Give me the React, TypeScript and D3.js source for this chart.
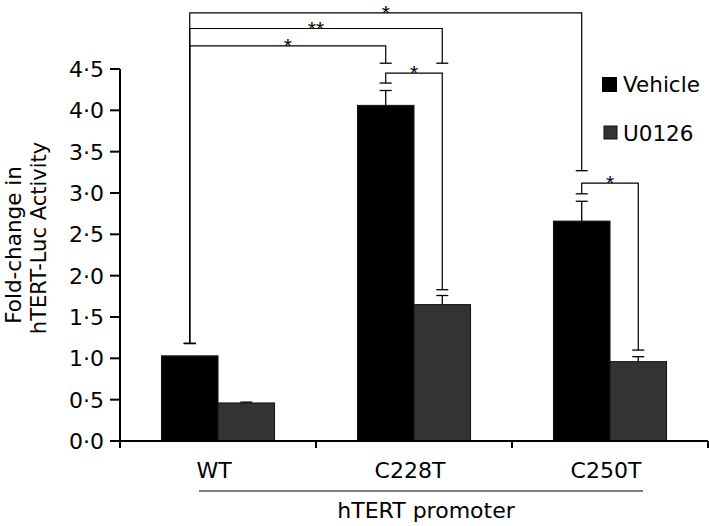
import React, { useEffect } from "react";
import * as d3 from "d3";

const categories = ["WT", "C228T", "C250T"];
const seriesNames = ["Vehicle", "U0126"];
const vehicleValues = [1.03, 4.06, 2.66];
const vehicleErrors = [0, 0.18, 0.24];
const u0126Values = [0.46, 1.65, 0.96];
const u0126Errors = [0.01, 0.11, 0.06];
const yTicks = [0, 0.5, 1, 1.5, 2, 2.5, 3, 3.5, 4, 4.5];

// significance brackets: [category, series] endpoints, bar level, leg ends, label
const bracketFrom = [[0, 0], [0, 0], [0, 0], [1, 0], [2, 0]];
const bracketTo = [[2, 0], [1, 1], [1, 0], [1, 1], [2, 1]];
const bracketLevel = [5.18, 4.99, 4.78, 4.45, 3.12];
const bracketLeftEnd = [1.18, 1.18, 1.18, 4.33, 2.99];
const bracketRightEnd = [3.27, 4.57, 4.57, 1.83, 1.1];
const bracketLabel = ["*", "**", "*", "*", "*"];

const FONT = "'DejaVu Sans', sans-serif";
const W = 709;
const H = 526;
const colors = ["#000000", "#333333"];

export default function App() {
  useEffect(() => {
    document.body.style.margin = "0";
  }, []);

  const x = d3
    .scaleBand<string>()
    .domain(categories)
    .range([120, 708])
    .paddingInner(0.423)
    .paddingOuter(0.2115);
  const xs = d3.scaleBand<string>().domain(seriesNames).range([0, x.bandwidth()]);
  const y = d3.scaleLinear().domain([0, 4.5]).range([441, 69]);

  const values = [vehicleValues, u0126Values];
  const errors = [vehicleErrors, u0126Errors];
  const step = x.step();
  const catCenter = (i: number) => (x(categories[i]) as number) + x.bandwidth() / 2;
  const barCenter = (c: number, s: number) =>
    (x(categories[c]) as number) + (xs(seriesNames[s]) as number) + xs.bandwidth() / 2;
  const capW = 12;

  return (
    <svg width={W} height={H} style={{ display: "block" }} fontFamily={FONT}>
      <rect x={0} y={0} width={W} height={H} fill="#fff" />
      {/* bars */}
      {seriesNames.map((s, si) =>
        categories.map((c, ci) => {
          const v = values[si][ci];
          return (
            <rect
              key={s + c}
              x={(x(c) as number) + (xs(s) as number)}
              y={y(v)}
              width={xs.bandwidth()}
              height={y(0) - y(v)}
              fill={colors[si]}
              stroke="#111"
              strokeWidth={1}
            />
          );
        })
      )}
      {/* error bars */}
      {seriesNames.map((s, si) =>
        categories.map((c, ci) => {
          const e = errors[si][ci];
          if (e <= 0) return null;
          const v = values[si][ci];
          const cx = barCenter(ci, si);
          return (
            <g key={"e" + s + c} stroke="#000" strokeWidth={1.3}>
              <line x1={cx} x2={cx} y1={y(v)} y2={y(v + e)} />
              <line x1={cx - capW / 2} x2={cx + capW / 2} y1={y(v + e)} y2={y(v + e)} />
            </g>
          );
        })
      )}
      {/* brackets */}
      {bracketLevel.map((lvl, i) => {
        const x1 = barCenter(bracketFrom[i][0], bracketFrom[i][1]);
        const x2 = barCenter(bracketTo[i][0], bracketTo[i][1]);
        const yl = y(lvl);
        const y1 = y(bracketLeftEnd[i]);
        const y2 = y(bracketRightEnd[i]);
        return (
          <g key={"b" + i}>
            <path
              d={`M${x1},${y1}V${yl}H${x2}V${y2}`}
              fill="none"
              stroke="#000"
              strokeWidth={1.2}
            />
            <line x1={x1 - capW / 2} x2={x1 + capW / 2} y1={y1} y2={y1} stroke="#000" strokeWidth={1.3} />
            <line x1={x2 - capW / 2} x2={x2 + capW / 2} y1={y2} y2={y2} stroke="#000" strokeWidth={1.3} />
            <text
              x={(x1 + x2) / 2}
              y={yl + 7.2}
              textAnchor="middle"
              fontSize={21}
              fontFamily="'Liberation Sans', Arial, sans-serif"
              fill="#000"
            >
              {bracketLabel[i]}
            </text>
          </g>
        );
      })}
      {/* y axis */}
      <line x1={120} x2={120} y1={y(4.5)} y2={y(0)} stroke="#000" strokeWidth={2} />
      {yTicks.map((t) => (
        <g key={"t" + t}>
          <line x1={110} x2={120} y1={y(t)} y2={y(t)} stroke="#000" strokeWidth={2} />
          <text x={104} y={y(t) + 8} textAnchor="end" fontSize={22} fill="#000">
            {t.toFixed(1).replace(".", "\u00B7")}
          </text>
        </g>
      ))}
      {/* x axis */}
      <line x1={119} x2={708} y1={y(0)} y2={y(0)} stroke="#000" strokeWidth={2} />
      {[0, 1, 2, 3].map((k) => (
        <line
          key={"xt" + k}
          x1={120 + k * step}
          x2={120 + k * step}
          y1={y(0)}
          y2={y(0) + 7}
          stroke="#000"
          strokeWidth={2}
        />
      ))}
      {categories.map((c, ci) => (
        <text key={"cl" + c} x={catCenter(ci) - 4} y={478} textAnchor="middle" fontSize={22} fill="#000">
          {c}
        </text>
      ))}
      <line x1={199} x2={643} y1={491} y2={491} stroke="#000" strokeWidth={1.2} />
      <text x={426} y={518} textAnchor="middle" fontSize={22} fill="#000">
        hTERT promoter
      </text>
      {/* y title */}
      <text transform="translate(21,245) rotate(-90)" textAnchor="middle" fontSize={21.5} fill="#000">
        Fold-change in
      </text>
      <text transform="translate(46,238) rotate(-90)" textAnchor="middle" fontSize={21} fill="#000">
        hTERT-Luc Activity
      </text>
      {/* legend */}
      <rect x={602} y={77} width={15} height={15} fill={colors[0]} />
      <text x={623} y={92} fontSize={21.5} fill="#000">
        {seriesNames[0]}
      </text>
      <rect x={604} y={126} width={13} height={13} fill={colors[1]} stroke="#111" strokeWidth={1} />
      <text x={623} y={141} fontSize={21.5} fill="#000">
        {seriesNames[1]}
      </text>
    </svg>
  );
}
